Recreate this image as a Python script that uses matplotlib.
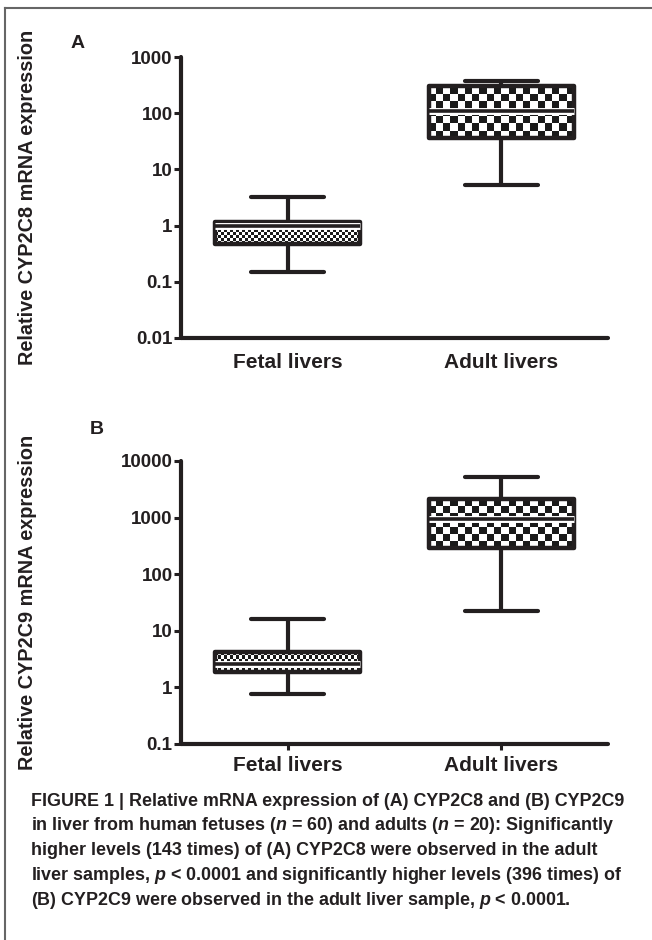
import numpy as np
import matplotlib
matplotlib.use('Agg')
import matplotlib.pyplot as plt
import matplotlib.patheffects as pe
from matplotlib.colors import ListedColormap
from matplotlib.lines import Line2D

# ------------------------------
# data
# ------------------------------
groups = ['Fetal livers', 'Adult livers']

# panel A: CYP2C8
a_whislo = [0.15, 5.2]
a_q1 = [0.47, 36]
a_med = [1.0, 110]
a_q3 = [1.15, 300]
a_whishi = [3.2, 380]
a_ticks = [0.01, 0.1, 1, 10, 100, 1000]
a_ticklabels = ['0.01', '0.1', '1', '10', '100', '1000']

# panel B: CYP2C9
b_whislo = [0.77, 22]
b_q1 = [1.9, 295]
b_med = [2.6, 950]
b_q3 = [4.2, 2100]
b_whishi = [16, 5200]
b_ticks = [0.1, 1, 10, 100, 1000, 10000]
b_ticklabels = ['0.1', '1', '10', '100', '1000', '10000']

ylabels = ['Relative CYP2C8 mRNA expression', 'Relative CYP2C9 mRNA expression']
panel_tags = ['A', 'B']

caption_lines = [
    'FIGURE 1 | Relative mRNA expression of (A) CYP2C8 and (B) CYP2C9',
    'in liver from human fetuses ($n$ = 60) and adults ($n$ = 20): Significantly',
    'higher levels (143 times) of (A) CYP2C8 were observed in the adult',
    'liver samples, $p$ < 0.0001 and significantly higher levels (396 times) of',
    '(B) CYP2C9 were observed in the adult liver sample, $p$ < 0.0001.',
]

# checker cells across each box (fine for fetal, coarse for adult)
checker_nx = [48, 20]
checker_cell_dec = [0.054, 0.125]

# ------------------------------
# style
# ------------------------------
sans = ['Liberation Sans', 'DejaVu Sans']
plt.rcParams['mathtext.fontset'] = 'custom'
plt.rcParams['mathtext.it'] = 'Liberation Sans:italic:bold'
plt.rcParams['mathtext.rm'] = 'Liberation Sans:bold'
ink = '#231f20'

fig = plt.figure(figsize=(6.52, 9.40), dpi=100)

# outer frame (top + left)
fig.add_artist(Line2D([5 / 652, 1.0], [1 - 8 / 940] * 2, color='#666666', lw=1.5))
fig.add_artist(Line2D([5 / 652] * 2, [0, 1 - 8 / 940], color='#666666', lw=1.5))

width = 0.68
positions = [1, 2]


def draw_panel(ax, whislo, q1, med, q3, whishi, ticks, ticklabels, ylabel, xticks_on):
    stats = []
    for i in range(2):
        stats.append(dict(whislo=whislo[i], q1=q1[i], med=med[i], q3=q3[i],
                          whishi=whishi[i], fliers=[], label=groups[i]))
    ax.set_yscale('log')
    bp = ax.bxp(stats, positions=positions, widths=width, patch_artist=True,
                showfliers=False,
                boxprops=dict(facecolor='none', edgecolor=ink, linewidth=3.2, joinstyle='round', zorder=3),
                whiskerprops=dict(color=ink, linewidth=3, solid_capstyle='butt'),
                capprops=dict(color=ink, linewidth=3, solid_capstyle='round'),
                medianprops=dict(color=ink, linewidth=2.6, solid_capstyle='butt', zorder=3.5,
                                 path_effects=[pe.Stroke(linewidth=5, foreground='white'), pe.Normal()]))

    # checkerboard fill inside each box
    for i, box in enumerate(bp['boxes']):
        x0 = positions[i] - width / 2
        xe = np.linspace(x0, x0 + width, checker_nx[i] + 1)
        ny = max(2, int(round((np.log10(q3[i]) - np.log10(q1[i])) / checker_cell_dec[i])))
        ye = np.logspace(np.log10(q1[i]), np.log10(q3[i]), ny + 1)
        cc = (np.add.outer(np.arange(ny), np.arange(checker_nx[i])) % 2)
        mesh = ax.pcolormesh(xe, ye, cc, cmap=ListedColormap(['white', '#1a1a1a']),
                             shading='flat', zorder=2, antialiased=False)
        mesh.set_clip_path(box)

    ax.set_xlim(0.5, 2.5)
    ax.set_ylim(ticks[0], ticks[-1])
    ax.set_yticks(ticks)
    ax.set_yticklabels(ticklabels)
    ax.yaxis.set_minor_locator(matplotlib.ticker.NullLocator())
    ax.set_xticks(positions)
    ax.set_xticklabels(groups)

    for s in ['top', 'right']:
        ax.spines[s].set_visible(False)
    for s in ['left', 'bottom']:
        ax.spines[s].set_linewidth(3)
        ax.spines[s].set_color(ink)
        ax.spines[s].set_capstyle('round')

    ax.tick_params(axis='y', length=5, width=2.2, color=ink, pad=1)
    if xticks_on:
        ax.tick_params(axis='x', length=4.5, width=2.2, color=ink, pad=4)
    else:
        ax.tick_params(axis='x', length=0, pad=11)

    for lab in ax.get_yticklabels():
        lab.set_family(sans)
        lab.set_fontweight('bold')
        lab.set_fontsize(13.5)
        lab.set_color(ink)
    for lab in ax.get_xticklabels():
        lab.set_family(sans)
        lab.set_fontweight('bold')
        lab.set_fontsize(15)
        lab.set_color(ink)

    ax.set_ylabel(ylabel, family=sans, fontweight='bold', fontsize=14.3, color=ink)
    ax.yaxis.label.set_va('center')
    ax.yaxis.set_label_coords(-0.36, 0.5)


# panel A
axA = fig.add_axes([181 / 652, 1 - 338 / 940, 427 / 652, (338 - 57) / 940])
draw_panel(axA, a_whislo, a_q1, a_med, a_q3, a_whishi, a_ticks, a_ticklabels, ylabels[0], False)

# panel B
axB = fig.add_axes([181 / 652, 1 - 744 / 940, 427 / 652, (744 - 461) / 940])
draw_panel(axB, b_whislo, b_q1, b_med, b_q3, b_whishi, b_ticks, b_ticklabels, ylabels[1], True)

fig.text(78 / 652, 1 - 43 / 940, panel_tags[0], family=sans, fontweight='bold',
         fontsize=14, color=ink, ha='center', va='center')
fig.text(97 / 652, 1 - 430 / 940, panel_tags[1], family=sans, fontweight='bold',
         fontsize=14, color=ink, ha='center', va='center')

# caption
for k, line in enumerate(caption_lines):
    fig.text(31 / 652, 1 - (801 + 24.8 * k) / 940, line, family=sans, fontweight='bold',
             fontsize=12.9, color=ink, ha='left', va='center')

fig.savefig('out.png', dpi=100)
